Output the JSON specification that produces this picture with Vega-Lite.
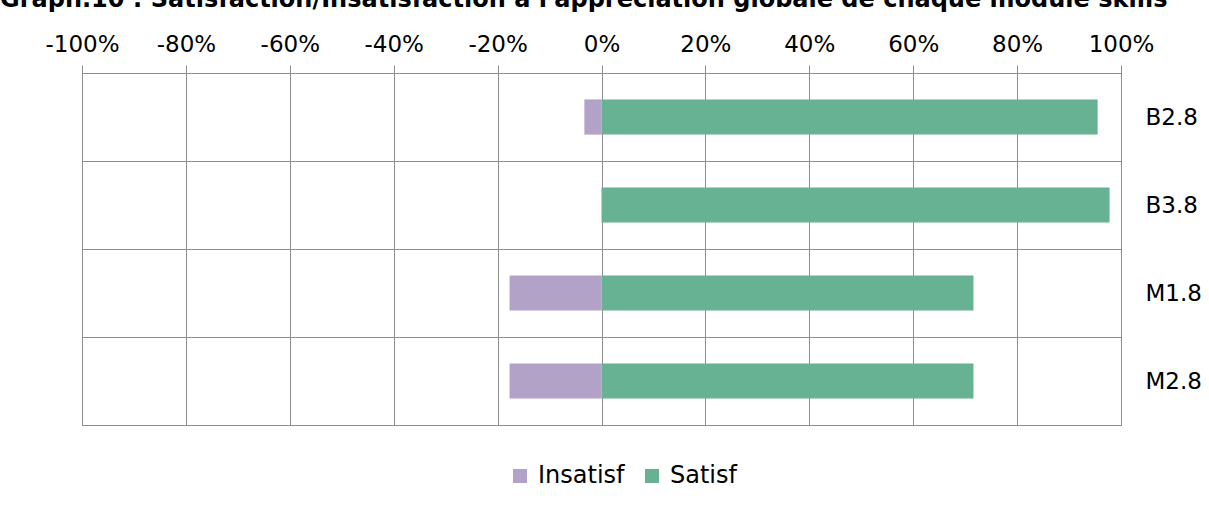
{
  "$schema": "https://vega.github.io/schema/vega-lite/v6.json",
  "width": 1039,
  "height": 352,
  "autosize": {"type": "none"},
  "padding": {"left": 82, "top": 73, "right": 88, "bottom": 82},
  "background": "white",
  "title": {
    "text": "Graph.10 : Satisfaction/Insatisfaction à l'appréciation globale de chaque module skills",
    "anchor": "start",
    "frame": "group",
    "dx": -82,
    "offset": 21,
    "font": "DejaVu Sans",
    "fontSize": 24,
    "fontWeight": "bold",
    "color": "black"
  },
  "data": {
    "values": [
      {"module": "B2.8", "serie": "Insatisf", "pct": -3.3},
      {"module": "B2.8", "serie": "Satisf", "pct": 95.5},
      {"module": "B3.8", "serie": "Insatisf", "pct": 0},
      {"module": "B3.8", "serie": "Satisf", "pct": 97.8},
      {"module": "M1.8", "serie": "Insatisf", "pct": -17.7},
      {"module": "M1.8", "serie": "Satisf", "pct": 71.6},
      {"module": "M2.8", "serie": "Insatisf", "pct": -17.7},
      {"module": "M2.8", "serie": "Satisf", "pct": 71.6}
    ]
  },
  "mark": {"type": "bar", "height": {"band": 0.4}},
  "encoding": {
    "y": {
      "field": "module",
      "type": "nominal",
      "sort": ["B2.8", "B3.8", "M1.8", "M2.8"],
      "scale": {"paddingInner": 0, "paddingOuter": 0},
      "axis": {
        "orient": "right",
        "title": null,
        "ticks": false,
        "domain": false,
        "grid": true,
        "tickBand": "extent",
        "gridColor": "#8e8e8e",
        "gridWidth": 1,
        "gridOpacity": 1,
        "labelPadding": 24,
        "labelFont": "DejaVu Sans",
        "labelFontSize": 23,
        "labelColor": "black"
      }
    },
    "x": {
      "field": "pct",
      "type": "quantitative",
      "stack": null,
      "scale": {"domain": [-100, 100], "nice": false, "zero": false},
      "axis": {
        "orient": "top",
        "title": null,
        "values": [-100, -80, -60, -40, -20, 0, 20, 40, 60, 80, 100],
        "labelExpr": "datum.value + '%'",
        "domain": false,
        "grid": true,
        "gridColor": "#8e8e8e",
        "gridOpacity": 1,
        "tickColor": "#8e8e8e",
        "tickSize": 8,
        "labelPadding": 9,
        "labelFont": "DejaVu Sans",
        "labelFontSize": 23,
        "labelColor": "black",
        "labelFlush": false,
        "labelOverlap": false
      }
    },
    "color": {
      "field": "serie",
      "type": "nominal",
      "scale": {"domain": ["Insatisf", "Satisf"], "range": ["#b2a2c7", "#66b292"]},
      "legend": {
        "orient": "none",
        "legendX": 426,
        "legendY": 391,
        "direction": "horizontal",
        "title": null,
        "symbolType": "square",
        "symbolSize": 196,
        "symbolStrokeWidth": 0,
        "symbolOpacity": 1,
        "labelFont": "DejaVu Sans",
        "labelFontSize": 24,
        "labelColor": "black",
        "labelOffset": 6,
        "columnPadding": 15
      }
    }
  },
  "config": {
    "view": {"stroke": "#8e8e8e", "strokeWidth": 1},
    "axis": {"gridDash": []}
  }
}
